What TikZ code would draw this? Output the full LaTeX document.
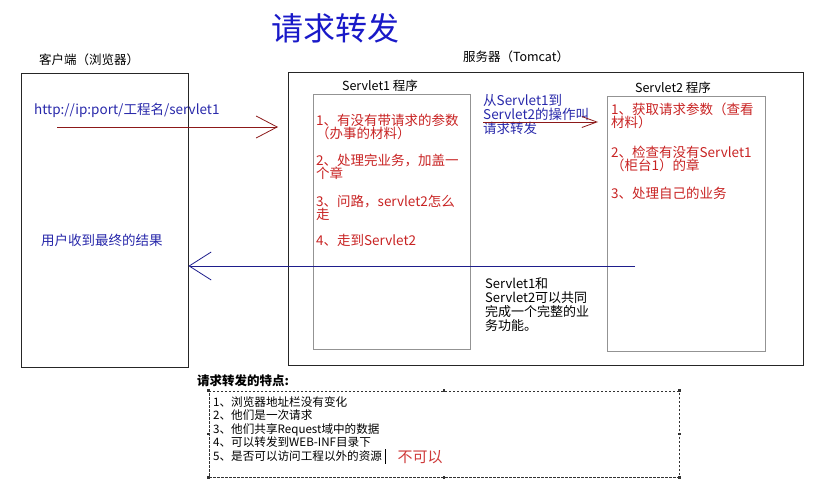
\documentclass[tikz,border=0pt]{standalone}
\usepackage{fontspec}
\setmainfont{Noto Sans CJK SC}
\usepackage{tikz}
\usetikzlibrary{arrows.meta,fit}
\definecolor{titleblue}{RGB}{25,25,200}
\definecolor{noteblue}{RGB}{40,40,170}
\definecolor{notered}{RGB}{200,35,35}
\definecolor{linered}{RGB}{140,25,25}
\definecolor{lineblue}{RGB}{30,30,140}
\tikzset{
  outerbox/.style = {draw=black!85, line width=0.9pt, inner sep=0pt},
  progbox/.style  = {draw=gray!85, line width=0.9pt, inner sep=0pt},
  featbox/.style  = {draw=black!80, dash pattern=on 2.5pt off 1.5pt,
                     line width=0.7pt, inner sep=0pt},
  handle/.style   = {fill=black!80, inner sep=0pt, minimum size=2.6pt},
  titletxt/.style = {font=\fontsize{32}{32}\selectfont, text=titleblue},
  captxt/.style   = {font=\fontsize{12.5}{12.5}\selectfont, inner sep=0pt},
  itemtxt/.style  = {font=\fontsize{13.5}{13}\selectfont, inner sep=0pt,
                     anchor=north west, align=left},
  listtxt/.style  = {font=\fontsize{11.6}{13.5}\selectfont, inner sep=0pt,
                     anchor=north west, align=left},
  reqar/.style    = {-{Straight Barb[length=21pt,width=22pt]}, linered, line width=0.8pt},
  respar/.style   = {-{Straight Barb[length=22pt,width=28pt]}, lineblue, line width=0.8pt},
  fwdar/.style    = {-{Straight Barb[length=15pt,width=11pt]}, linered, line width=0.8pt}
}
\begin{document}
\begin{tikzpicture}[x=1pt,y=-1pt]
  \useasboundingbox (0,0) rectangle (837,503);

  \node[titletxt] (title) at (335,28) {请求转发};
  \node[captxt] (clientcap) at (89,60) {客户端（浏览器）};
  \node[captxt] (servercap) at (516,57) {服务器（Tomcat）};
  \node[captxt] (onecap) at (380,86) {Servlet1 程序};
  \node[captxt] (twocap) at (673,88) {Servlet2 程序};

  \node[outerbox, fit={(21,73) (188,367)}] (client) {};
  \node[outerbox, fit={(288,72) (803,365)}] (server) {};
  \node[progbox, fit={(313,94) (470,349)}] (servletone) {};
  \node[progbox, fit={(607,96) (765,351)}] (servlettwo) {};

  \node[itemtxt, text=noteblue] (url) at (34,103) {http://ip:port/工程名/servlet1};
  \node[itemtxt, text=noteblue] (result) at (41,234) {用户收到最终的结果};

  \node[itemtxt, text=notered] (onea) at (316,114) {1、有没有带请求的参数\\（办事的材料）};
  \node[itemtxt, text=notered] (oneb) at (316,154) {2、处理完业务，加盖一\\个章};
  \node[itemtxt, text=notered] (onec) at (316,195) {3、问路，servlet2怎么\\走};
  \node[itemtxt, text=notered] (oned) at (316,234) {4、走到Servlet2};

  \node[itemtxt, text=notered] (twoa) at (611,103) {1、获取请求参数（查看\\材料）};
  \node[itemtxt, text=notered] (twob) at (611,146) {2、检查有没有Servlet1\\（柜台1）的章};
  \node[itemtxt, text=notered] (twoc) at (611,187) {3、处理自己的业务};

  \node[itemtxt, text=noteblue, font=\fontsize{13.5}{14}\selectfont] (fwdnote) at (483,94)
    {从Servlet1到\\Servlet2的操作叫\\请求转发};
  \node[itemtxt, font=\fontsize{13}{14}\selectfont] (jointnote) at (485,277)
    {Servlet1和\\Servlet2可以共同\\完成一个完整的业\\务功能。};

  \coordinate (reqstart) at (57,127);
  \coordinate (reqend) at (278,127);
  \coordinate (fwdstart) at (483,122);
  \coordinate (fwdend) at (598,122);
  \coordinate (respstart) at (635,266);
  \draw[reqar] (reqstart) -- (reqend);
  \draw[fwdar] (fwdstart) -- (fwdend);
  \draw[respar] (respstart) -- (client.east |- respstart);

  \node[captxt, font=\fontsize{12.5}{12.5}\selectfont\bfseries, anchor=west] (feathead) at (197,381) {请求转发的特点:};
  \node[featbox, fit={(209,391) (679,477)}] (feats) {};
  \foreach \a in {north west,north,north east,east,south east,south,south west,west}
    \node[handle] at (feats.\a) {};
  \node[listtxt] (featlist) at (213,396)
    {1、浏览器地址栏没有变化\\2、他们是一次请求\\3、他们共享Request域中的数据\\4、可以转发到WEB-INF目录下\\5、是否可以访问工程以外的资源};
  \draw[black, line width=0.6pt] (385,449) -- (385,464);
  \node[captxt, font=\fontsize{15}{15}\selectfont, text=notered!90!white] (answer) at (420,457) {不可以};
\end{tikzpicture}
\end{document}
